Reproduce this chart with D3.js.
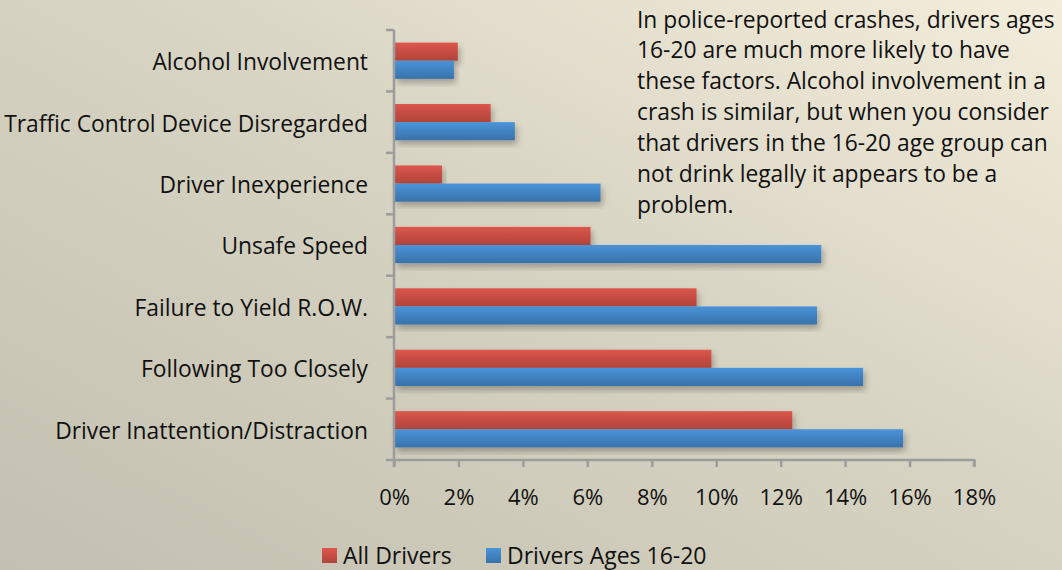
<!DOCTYPE html>
<html>
<head>
<meta charset="utf-8">
<script src="https://cdn.jsdelivr.net/npm/d3@7"></script>
<style>
  body { margin: 0; padding: 0; overflow: hidden; }
  text { font-family: "Open Sans", "Noto Sans", sans-serif; fill: #111; }
</style>
</head>
<body>
<div id="chart"></div>
<script>
// categories, top to bottom
var categories = [
  "Alcohol Involvement",
  "Traffic Control Device Disregarded",
  "Driver Inexperience",
  "Unsafe Speed",
  "Failure to Yield R.O.W.",
  "Following Too Closely",
  "Driver Inattention/Distraction"
];
var allDrivers = [1.98, 3.0, 1.49, 6.1, 9.39, 9.85, 12.36];
var youngDrivers = [1.86, 3.75, 6.41, 13.26, 13.13, 14.56, 15.8];
var seriesNames = ["All Drivers", "Drivers Ages 16-20"];
var xTicks = [0, 2, 4, 6, 8, 10, 12, 14, 16, 18];
var noteLines = [
  "In police-reported crashes, drivers ages",
  "16-20 are much more likely to have",
  "these factors. Alcohol involvement in a",
  "crash is similar, but when you consider",
  "that drivers in the 16-20 age group can",
  "not drink legally it appears to be a",
  "problem."
];

var W = 1062, H = 570;
var margin = { top: 30, left: 394, right: 88, bottom: 110 };
var width = W - margin.left - margin.right;
var height = H - margin.top - margin.bottom;

var svg = d3.select("#chart").append("svg")
  .attr("width", W).attr("height", H);

var defs = svg.append("defs");
// background gradient
var bg = defs.append("linearGradient").attr("id", "bg")
  .attr("x1", "0%").attr("y1", "100%").attr("x2", "100%").attr("y2", "0%");
bg.append("stop").attr("offset", "0%").attr("stop-color", "#c3c0b1");
bg.append("stop").attr("offset", "55%").attr("stop-color", "#d8d4c3");
bg.append("stop").attr("offset", "100%").attr("stop-color", "#f3eddb");

var redG = defs.append("linearGradient").attr("id", "redG")
  .attr("x1", 0).attr("y1", 0).attr("x2", 0).attr("y2", 1);
redG.append("stop").attr("offset", "0%").attr("stop-color", "#dc564c");
redG.append("stop").attr("offset", "100%").attr("stop-color", "#b1443b");
var blueG = defs.append("linearGradient").attr("id", "blueG")
  .attr("x1", 0).attr("y1", 0).attr("x2", 0).attr("y2", 1);
blueG.append("stop").attr("offset", "0%").attr("stop-color", "#4a93d8");
blueG.append("stop").attr("offset", "100%").attr("stop-color", "#3872ab");

var shadow = defs.append("filter").attr("id", "shadow")
  .attr("x", "-5%").attr("y", "-20%").attr("width", "115%").attr("height", "160%");
shadow.append("feDropShadow").attr("dx", 2).attr("dy", 4)
  .attr("stdDeviation", 3).attr("flood-color", "#000").attr("flood-opacity", 0.28);

svg.append("rect").attr("width", W).attr("height", H).attr("fill", "url(#bg)");

var chartGroup = svg.append("g")
  .attr("transform", `translate(${margin.left}, ${margin.top})`);

var xscale = d3.scaleLinear().domain([0, 18]).range([0, 580]);
var yscale = d3.scaleBand().domain(categories).range([0, height])
  .paddingInner(0.41).paddingOuter(0.205);
var inner = d3.scaleBand().domain(seriesNames).range([0, yscale.bandwidth()]);

var rows = categories.map(function(c, i) {
  return { cat: c, vals: [allDrivers[i], youngDrivers[i]] };
});

// bars
var groups = chartGroup.selectAll(".grp").data(rows).enter().append("g")
  .attr("class", "grp")
  .attr("transform", d => `translate(0, ${yscale(d.cat)})`);
groups.selectAll("rect")
  .data(d => d.vals.map((v, k) => ({ v: v, s: seriesNames[k], k: k })))
  .enter().append("rect")
  .attr("x", 1)
  .attr("y", d => inner(d.s))
  .attr("height", inner.bandwidth())
  .attr("width", d => xscale(d.v) - 1)
  .attr("fill", d => d.k === 0 ? "url(#redG)" : "url(#blueG)")
  .attr("filter", "url(#shadow)");

// y axis with ticks between categories
var axisColor = "#9c9c9c";
chartGroup.append("line").attr("x1", 0).attr("x2", 0).attr("y1", 0).attr("y2", height)
  .attr("stroke", axisColor).attr("stroke-width", 2.5);
var bounds = d3.range(categories.length + 1).map(i => i * yscale.step());
chartGroup.selectAll(".ytick").data(bounds).enter().append("line")
  .attr("x1", -8).attr("x2", 0)
  .attr("y1", d => d).attr("y2", d => d)
  .attr("stroke", axisColor).attr("stroke-width", 2.5);

// category labels
chartGroup.selectAll(".ylab").data(categories).enter().append("text")
  .attr("x", -26)
  .attr("y", d => yscale(d) + yscale.bandwidth() / 2 + 1.5)
  .attr("dy", "0.35em")
  .attr("text-anchor", "end")
  .attr("font-size", 22.8)
  .text(d => d);

// x axis
var xaxis = d3.axisBottom(xscale).tickValues(xTicks).tickSize(7)
  .tickFormat(d => d + "%");
var xg = chartGroup.append("g")
  .attr("transform", `translate(0, ${height})`)
  .call(xaxis);
xg.select(".domain").attr("stroke", axisColor).attr("stroke-width", 2.5)
  .attr("d", `M0,7V0H${xscale(18)}V7`);
xg.selectAll(".tick line").attr("stroke", axisColor).attr("stroke-width", 2.5);
xg.selectAll(".tick text").attr("font-size", 22).attr("y", 29)
  .attr("fill", "#111").style("font-family", "'Open Sans', sans-serif");

// note
svg.append("g").selectAll("text").data(noteLines).enter().append("text")
  .attr("x", 637)
  .attr("y", (d, i) => 27.5 + i * 30.9)
  .attr("font-size", 22.8)
  .text(d => d);

// legend
var legend = svg.append("g").attr("transform", "translate(322, 548)");
var legX = [0, 164];
seriesNames.forEach(function(s, k) {
  var g = legend.append("g").attr("transform", `translate(${legX[k]}, 0)`);
  g.append("rect").attr("width", 15).attr("height", 15)
    .attr("fill", k === 0 ? "url(#redG)" : "url(#blueG)");
  g.append("text").attr("x", 21).attr("y", 8).attr("dy", "0.35em")
    .attr("font-size", 23).text(s);
});
</script>
</body>
</html>
